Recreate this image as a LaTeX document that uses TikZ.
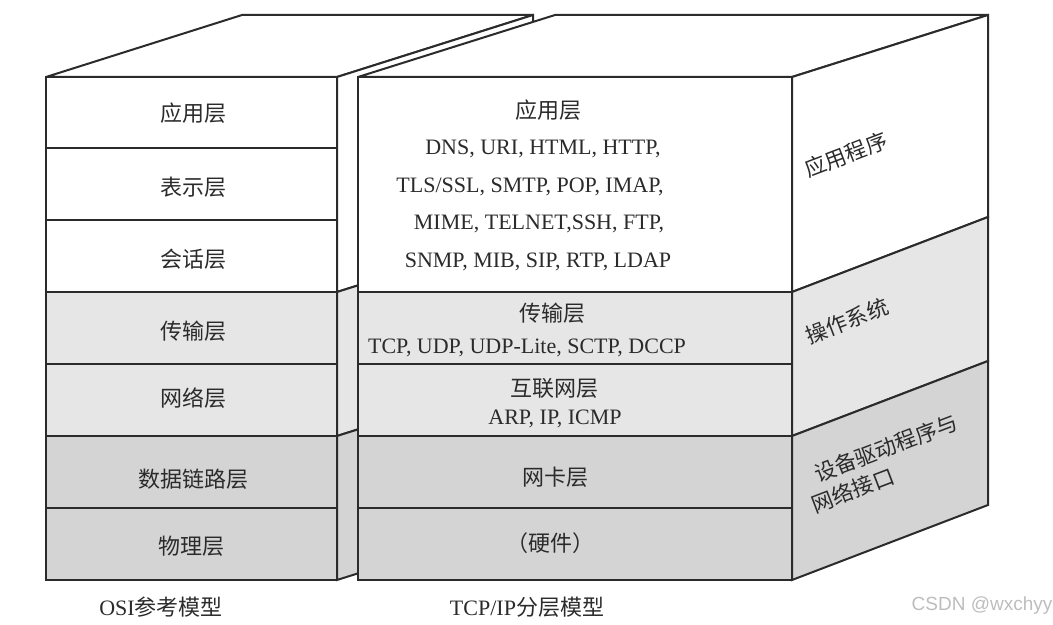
\documentclass[tikz,border=0pt]{standalone}
\usepackage{fontspec}
\setmainfont{Liberation Serif}
\newfontfamily\cjk{Noto Sans CJK SC}
\newfontfamily\wmfont{Liberation Sans}
\definecolor{lyink}{HTML}{2B2B2B}
\definecolor{lylight}{HTML}{E6E6E6}
\definecolor{lydark}{HTML}{D4D4D4}
\definecolor{lymark}{HTML}{BDBDBD}
\tikzset{
  face/.style={draw=lyink,line width=1pt,line join=miter,miter limit=2},
  zhlab/.style={font=\cjk\fontsize{11}{13}\selectfont,text=lyink,inner sep=0pt},
  enlab/.style={font=\fontsize{11}{13}\selectfont,text=lyink,inner sep=0pt,anchor=base},
  caplab/.style={font=\fontsize{11}{13}\selectfont,text=lyink,inner sep=0pt},
  sidelab/.style={font=\cjk\fontsize{10.75}{14}\selectfont,text=lyink,inner sep=0pt,
                  rotate=20.9},
}

\begin{document}
\begin{tikzpicture}[x=0.5pt,y=-0.5pt]
  \useasboundingbox (0,0) rectangle (1053,625);

  % ---- OSI block: top and side ----
  \filldraw[face,fill=white]   (46,77) -- (242,15) -- (533,15) -- (337,77) -- cycle;
  \filldraw[face,fill=white]   (337,77) -- (533,15) -- (533,230) -- (337,292) -- cycle;
  \filldraw[face,fill=lylight] (337,292) -- (533,230) -- (533,374) -- (337,436) -- cycle;
  \filldraw[face,fill=lydark]  (337,436) -- (533,374) -- (533,518) -- (337,580) -- cycle;

  % ---- OSI block: front ----
  \fill[white]   (46,77) rectangle (337,292);
  \fill[lylight] (46,292) rectangle (337,436);
  \fill[lydark]  (46,436) rectangle (337,580);
  \foreach \y in {148,220,292,364,436,508}{
    \draw[face] (46,\y) -- (337,\y);}
  \draw[face] (46,77) rectangle (337,580);

  \node[zhlab] (osi7) at (193,113) {应用层};
  \node[zhlab] (osi6) at (193,187) {表示层};
  \node[zhlab] (osi5) at (193,259) {会话层};
  \node[zhlab] (osi4) at (193,331) {传输层};
  \node[zhlab] (osi3) at (193,398) {网络层};
  \node[zhlab] (osi2) at (193,479) {数据链路层};
  \node[zhlab] (osi1) at (191,546) {物理层};

  % ---- TCP/IP block: top and side ----
  \filldraw[face,fill=white]   (358,77) -- (555,15) -- (988,15) -- (792,77) -- cycle;
  \filldraw[face,fill=white]   (792,77) -- (988,15) -- (988,217) -- (792,292) -- cycle;
  \filldraw[face,fill=lylight] (792,292) -- (988,217) -- (988,361) -- (792,436) -- cycle;
  \filldraw[face,fill=lydark]  (792,436) -- (988,361) -- (988,505) -- (792,580) -- cycle;

  % ---- TCP/IP block: front ----
  \fill[white]   (358,77) rectangle (792,292);
  \fill[lylight] (358,292) rectangle (792,436);
  \fill[lydark]  (358,436) rectangle (792,580);
  \foreach \y in {292,364,436,508}{
    \draw[face] (358,\y) -- (792,\y);}
  \draw[face] (358,77) rectangle (792,580);

  \node[zhlab] (app)   at (548,110) {应用层};
  \node[enlab] (appa)  at (543,155) {DNS, URI, HTML, HTTP,};
  \node[enlab] (appb)  at (530,193) {TLS/SSL, SMTP, POP, IMAP,};
  \node[enlab] (appc)  at (539,230) {MIME, TELNET,SSH, FTP,};
  \node[enlab] (appd)  at (538,268) {SNMP, MIB, SIP, RTP, LDAP};
  \node[zhlab] (trans) at (552,313) {传输层};
  \node[enlab] (transa) at (527,353) {TCP, UDP, UDP-Lite, SCTP, DCCP};
  \node[zhlab] (inet)  at (554,388) {互联网层};
  \node[enlab] (ineta) at (555,424) {ARP, IP, ICMP};
  \node[zhlab] (nic)   at (555,477) {网卡层};
  \node[zhlab] (hw)    at (550,543) {（硬件）};

  % ---- side labels ----
  \node[sidelab] (sideapp)  at (846,155) {应用程序};
  \node[sidelab] (sideos)   at (847,321) {操作系统};
  \node[sidelab] (sidedrv)  at (886,448) {设备驱动程序与};
  \node[sidelab] (sidenet)  at (853,490) {网络接口};

  % ---- captions ----
  \node[caplab] (osicap) at (161,607) {OSI{\cjk 参考模型}};
  \node[caplab] (tcpcap) at (527,607) {TCP/IP{\cjk 分层模型}};
  \node[font=\wmfont\fontsize{9.5}{11}\selectfont,text=lymark,inner sep=0pt] (mark) at (982,606) {CSDN @wxchyy};
\end{tikzpicture}
\end{document}
